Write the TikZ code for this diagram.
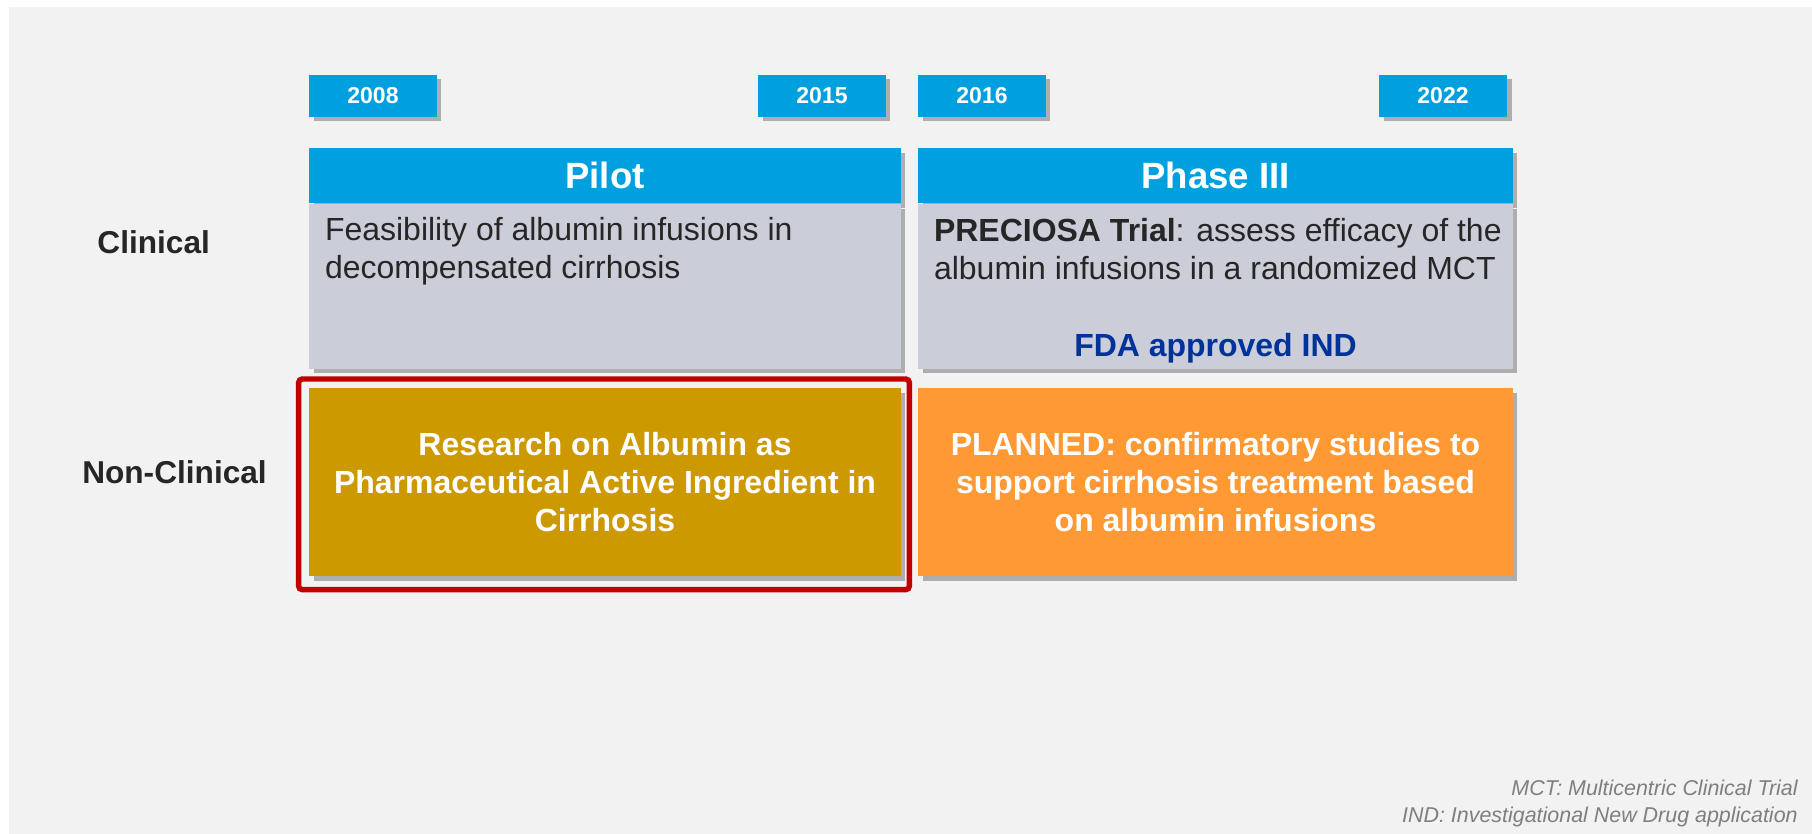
\documentclass[tikz,border=0pt]{standalone}
\usepackage{fontspec}
\setmainfont{Liberation Sans}
\usetikzlibrary{positioning,shadows,calc}
\definecolor{sky}{RGB}{0,160,223}
\definecolor{slate}{RGB}{203,205,217}
\definecolor{mustard}{RGB}{204,153,0}
\definecolor{tangerine}{RGB}{255,153,51}
\definecolor{crimson}{RGB}{192,0,0}
\definecolor{paper}{RGB}{242,242,242}
\definecolor{ink}{RGB}{38,38,38}
\definecolor{royal}{RGB}{0,51,153}
\definecolor{fog}{RGB}{127,127,127}

\tikzset{
  boxshadow/.style={drop shadow={shadow xshift=0.09cm,shadow yshift=-0.09cm,fill=black,opacity=0.28}},
  yearbox/.style={fill=sky,boxshadow,minimum width=2.56cm,minimum height=0.84cm,inner sep=0pt,
    text=white,font=\fontsize{13.1}{15}\selectfont\bfseries},
  phasehead/.style={fill=sky,boxshadow,minimum height=1.11cm,inner sep=0pt,
    text=white,font=\fontsize{20.8}{24}\selectfont\bfseries},
  phasebody/.style={fill=slate,boxshadow,minimum height=3.29cm,inner sep=0pt},
  bodytext/.style={inner sep=0pt,align=left,text=ink,font=\fontsize{18.2}{21.6}\selectfont},
  ncbox/.style={boxshadow,minimum height=3.76cm,inner sep=0pt,align=center,
    text=white,font=\fontsize{18.2}{21.6}\selectfont\bfseries},
  rowlabel/.style={inner sep=0pt,text=ink,font=\fontsize{18}{21.6}\selectfont\bfseries}
}

\begin{document}
\begin{tikzpicture}[x=0.02cm,y=-0.02cm]
  \useasboundingbox (0,0) rectangle (1812,834);
  \fill[white] (0,0) rectangle (1812,834);
  \fill[paper] (9,7) rectangle (1812,834);

  % years
  \foreach \yr/\x in {2008/373,2015/822,2016/982,2022/1443}
    \node[yearbox] (y\yr) at (\x,96) {\yr};

  % clinical row
  \node[phasehead,minimum width=11.84cm] (pilot) at (605,175.75) {Pilot};
  \node[phasehead,minimum width=11.9cm] (phase3) at (1215.5,175.75) {Phase III};
  \node[phasebody,minimum width=11.84cm,below=0pt of pilot] (pilotbody) {};
  \node[phasebody,minimum width=11.9cm,below=0pt of phase3] (phase3body) {};
  % base = last line
  \node[bodytext,anchor=base west] (pilottxt) at ($(pilotbody.north west)+(16,74.5)$)
    {Feasibility of albumin infusions in\\decompensated cirrhosis};
  \node[bodytext,anchor=base west] (phase3txt) at ($(phase3body.north west)+(16,75.5)$)
    {\textbf{PRECIOSA Trial}: assess efficacy of the\\albumin infusions in a randomized MCT};
  \node[inner sep=0pt,anchor=base,text=royal,font=\fontsize{18.2}{21.6}\selectfont\bfseries] (fda)
    at ($(phase3body.south)+(0,-13)$) {FDA approved IND};

  % non-clinical row
  \node[ncbox,fill=mustard,minimum width=11.84cm,below=0.38cm of pilotbody] (research)
    {Research on Albumin as\\Pharmaceutical Active Ingredient in\\Cirrhosis};
  \node[ncbox,fill=tangerine,minimum width=11.9cm,below=0.38cm of phase3body] (planned)
    {PLANNED: confirmatory studies to\\support cirrhosis treatment based\\on albumin infusions};
  \coordinate (frameNW) at ($(research.north west)+(-10,-9)$);
  \coordinate (frameSE) at ($(research.south east)+(8,13)$);
  \draw[crimson,line width=3.1pt,rounded corners=2pt] (frameNW) rectangle (frameSE);

  % row labels
  \node[rowlabel,anchor=base] (clin) at (153.7,254) {Clinical};
  \node[rowlabel,anchor=base] (nonclin) at (174.5,483.3) {Non-Clinical};

  % notes
  \node[inner sep=0pt,anchor=base east,align=right,text=fog,
    font=\fontsize{12.2}{15.1}\selectfont\itshape] (notes) at (1798,822.3)
    {MCT: Multicentric Clinical Trial\\IND: Investigational New Drug application};
\end{tikzpicture}
\end{document}
